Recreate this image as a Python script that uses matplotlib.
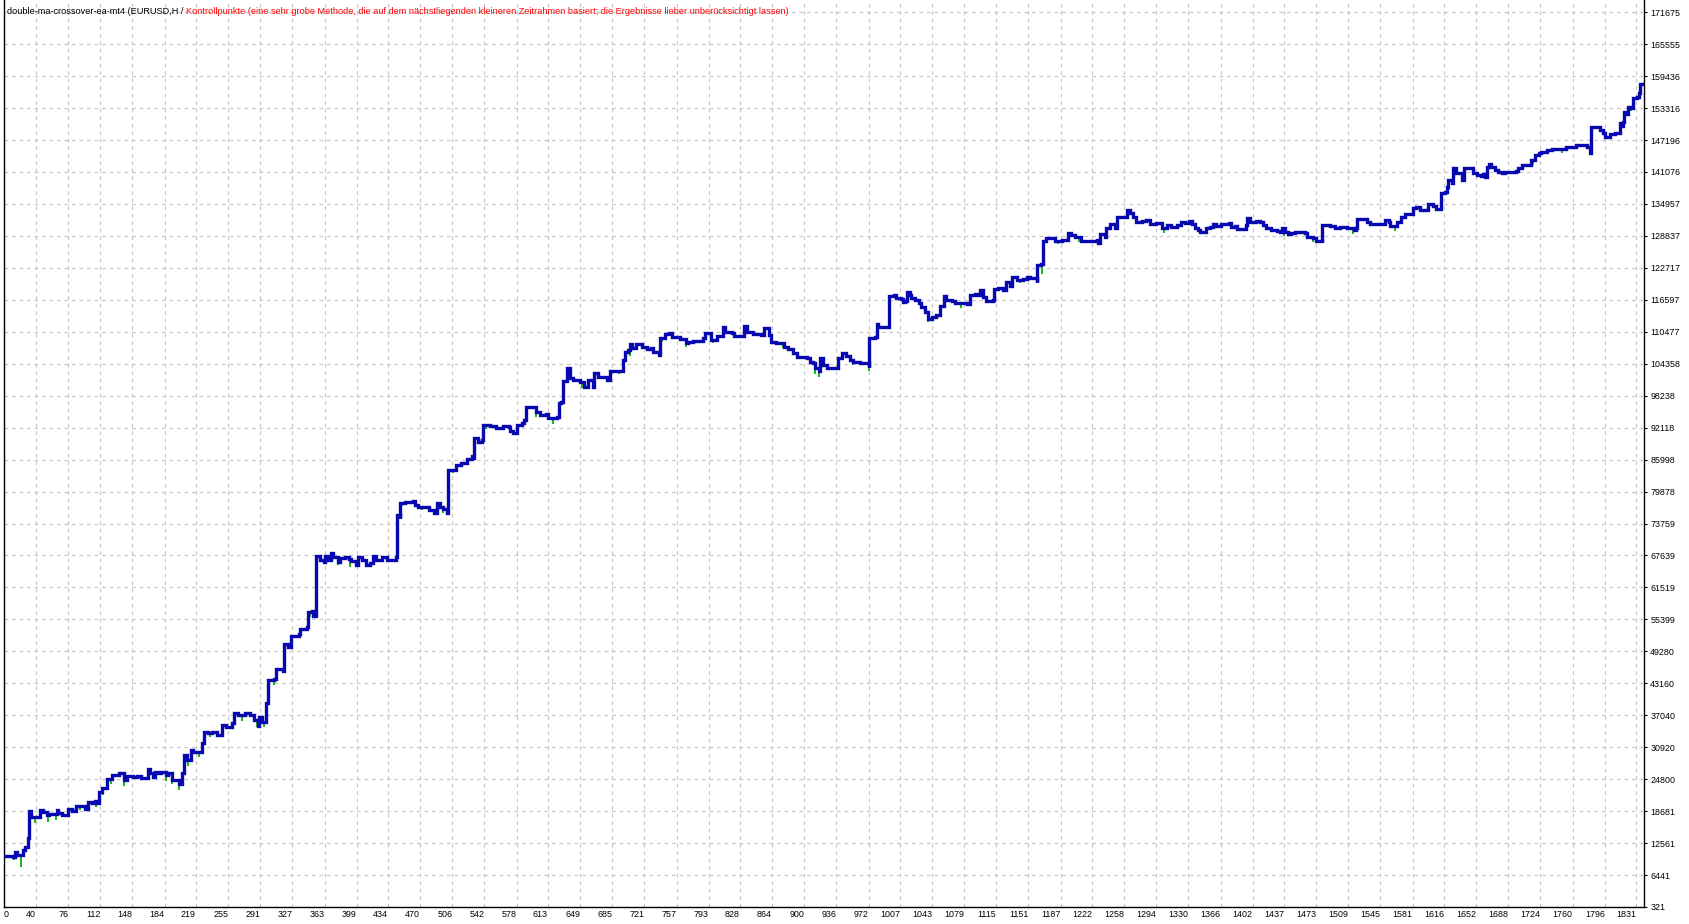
import numpy as np
import matplotlib
matplotlib.use("Agg")
import matplotlib.pyplot as plt
from matplotlib import font_manager

# balance curve (trade number, balance)
trades = [0, 14, 17, 19, 25, 28, 31, 32, 34, 44, 45, 48, 52, 55, 63, 65, 69, 76, 80, 85,
          95, 98, 103, 106, 108, 111, 114, 120, 125, 133, 138, 142, 149, 153, 157, 165, 168,
          171, 173, 177, 180, 185, 188, 192, 200, 204, 206, 209, 213, 216, 226, 228, 233, 237,
          243, 248, 253, 259, 262, 266, 274, 280, 284, 289, 290, 293, 297, 300, 306, 309, 317,
          318, 322, 325, 334, 336, 343, 344, 349, 350, 354, 358, 362, 364, 367, 370, 373, 378,
          380, 386, 390, 393, 398, 400, 405, 409, 414, 417, 421, 427, 433, 443, 444, 447, 448,
          453, 462, 464, 468, 480, 485, 489, 492, 496, 500, 501, 510, 516, 522, 528, 529, 530,
          535, 539, 540, 548, 555, 563, 569, 571, 574, 578, 584, 586, 589, 600, 604, 611, 613,
          623, 625, 628, 630, 634, 638, 641, 649, 654, 658, 663, 665, 669, 675, 679, 682, 697,
          699, 703, 705, 707, 712, 718, 724, 728, 731, 737, 739, 744, 749, 752, 761, 768, 770,
          776, 787, 789, 796, 802, 809, 811, 819, 821, 832, 836, 843, 852, 855, 859, 861, 863,
          868, 875, 877, 882, 887, 892, 903, 906, 910, 912, 916, 918, 921, 925, 938, 942, 947,
          951, 955, 962, 970, 972, 973, 979, 981, 983, 992, 995, 1000, 1003, 1008, 1010, 1013,
          1015, 1018, 1020, 1024, 1028, 1031, 1035, 1039, 1043, 1048, 1052, 1056, 1059, 1065,
          1069, 1074, 1082, 1085, 1091, 1095, 1097, 1100, 1104, 1111, 1112, 1117, 1122, 1126,
          1130, 1133, 1138, 1145, 1149, 1153, 1160, 1161, 1165, 1167, 1171, 1181, 1188, 1195,
          1199, 1203, 1210, 1228, 1229, 1231, 1237, 1238, 1242, 1248, 1250, 1261, 1265, 1268,
          1271, 1278, 1283, 1287, 1294, 1300, 1301, 1306, 1311, 1317, 1322, 1326, 1331, 1334,
          1337, 1341, 1343, 1350, 1354, 1358, 1361, 1367, 1376, 1378, 1382, 1384, 1395, 1396,
          1399, 1406, 1410, 1414, 1417, 1423, 1429, 1432, 1435, 1438, 1441, 1445, 1449, 1455,
          1460, 1463, 1470, 1473, 1479, 1480, 1488, 1494, 1500, 1507, 1515, 1518, 1519, 1526,
          1530, 1533, 1550, 1554, 1556, 1563, 1568, 1572, 1581, 1585, 1589, 1598, 1604, 1607,
          1613, 1617, 1619, 1621, 1625, 1626, 1630, 1636, 1638, 1649, 1653, 1658, 1660, 1662,
          1664, 1666, 1669, 1673, 1677, 1681, 1684, 1697, 1699, 1703, 1714, 1718, 1722, 1725,
          1731, 1737, 1753, 1764, 1776, 1779, 1780, 1781, 1791, 1794, 1796, 1802, 1807, 1811,
          1813, 1815, 1817, 1818, 1820, 1822, 1826, 1828, 1832, 1834, 1835, 1841]
balance = [10000, 9834, 10855, 10200, 11239, 11877, 13474, 18707, 17494, 18068, 18898, 18451,
           17877, 18068, 18898, 18260, 17941, 19090, 18707, 19728, 19026, 20494, 20175, 20686,
           20175, 22281, 23111, 24898, 25664, 25919, 24643, 25473, 25281, 25473, 24962, 26749,
           25919, 25281, 26238, 25919, 26238, 25600, 25919, 24643, 23877, 25919, 29430, 28473,
           30388, 30069, 31664, 33898, 33579, 33898, 33260, 35175, 34856, 35494, 37409, 37090,
           37409, 37090, 36132, 35047, 36771, 35813, 39324, 43792, 43919, 45834, 45579, 50622,
           50175, 52217, 52536, 53494, 54007, 56752, 57071, 56050, 67603, 66773, 66454, 67603,
           66773, 68178, 67412, 66454, 67092, 67412, 66901, 66646, 65816, 67284, 66773, 65816,
           66135, 67540, 66773, 67412, 66773, 67412, 75390, 74751, 77751, 77943, 78134, 77305,
           76985, 76347, 75709, 77624, 76985, 76475, 75837, 84007, 84965, 85411, 86050, 86688,
           86241, 90071, 89432, 89752, 92624, 92432, 92113, 92432, 92305, 91475, 91156, 92624,
           92943, 93581, 96135, 95177, 94539, 94730, 93900, 94220, 96773, 97092, 101114, 103476,
           101561, 101242, 100923, 99838, 101242, 99838, 102518, 101880, 101752, 101242, 103029,
           105072, 106667, 106987, 108136, 107306, 108136, 107625, 107114, 107306, 106667,
           106029, 109220, 109986, 110178, 109412, 109029, 108263, 108582, 108774, 109220,
           110178, 108901, 109667, 111327, 110369, 110178, 109667, 111582, 110369, 110050,
           109859, 111263, 111135, 109859, 108582, 108391, 108263, 107625, 107114, 106476,
           105710, 105391, 104752, 104433, 103476, 103029, 105391, 104114, 103476, 105391,
           106348, 105838, 105072, 104752, 104561, 104433, 103795, 109300, 109539, 111965,
           111329, 111457, 117329, 117521, 116883, 116691, 116244, 116436, 118032, 117521,
           116883, 116563, 116053, 115287, 114329, 112861, 113372, 113691, 115414, 117329,
           116563, 116436, 115925, 116053, 115798, 117521, 117713, 117521, 118478, 117202,
           116436, 116563, 118606, 118797, 118478, 120074, 119244, 121031, 120393, 120520,
           120903, 120712, 120074, 123265, 123457, 127861, 128371, 127925, 128052, 129329,
           129010, 128563, 127925, 128052, 127414, 129202, 128691, 130287, 131117, 130287,
           132393, 133798, 133159, 132521, 131564, 131755, 131882, 131053, 131372, 131117,
           130287, 130925, 130606, 130925, 131563, 131244, 131755, 131117, 130415, 129968,
           129649, 130415, 130479, 131117, 130734, 131117, 131244, 130606, 130734, 130096,
           130925, 132202, 131563, 131691, 131563, 130925, 130287, 129968, 129840, 129649,
           130287, 129649, 129138, 129330, 129649, 129521, 129330, 128691, 128372, 127925,
           127734, 130925, 130797, 130415, 130606, 130415, 130000, 130287, 132150, 132010,
           131563, 131116, 131883, 131563, 130797, 131563, 132520, 133031, 134116, 134308,
           133797, 134946, 134563, 133925, 136988, 137308, 138138, 139542, 138904, 141776,
           140819, 139542, 141776, 140946, 140500, 140308, 140628, 140181, 141968, 142606,
           141968, 141457, 141138, 140946, 141138, 141330, 141776, 142415, 143372, 144329,
           144648, 144968, 145287, 145414, 145925, 146244, 145925, 145287, 144648, 149755,
           149117, 148478, 147840, 148350, 148606, 148478, 150393, 149882, 150712, 152627,
           152180, 153584, 153265, 155180, 155499, 156137, 157925, 158053]

# equity drawdowns (green) below the balance line
dip_trades = [15, 23, 39, 53, 62, 89, 107, 115, 124, 138, 185, 192, 200, 210, 223, 235, 271,
              287, 295, 306, 347, 378, 391, 450, 472, 487, 496, 507, 522, 544, 576, 600, 619,
              627, 651, 664, 679, 693, 705, 741, 768, 798, 821, 876, 912, 917, 955, 972, 979,
              994, 1010, 1039, 1048, 1075, 1104, 1141, 1166, 1184, 1207, 1278, 1303, 1310,
              1437, 1470, 1479, 1514, 1561, 1716, 1748, 1817, 1826]
dip_values = [9324, 7945, 16345, 16664, 16983, 18898, 19537, 21771, 23877, 23558, 24515,
              23877, 22728, 27324, 28983, 32814, 36005, 34728, 34856, 42835, 55922, 65816,
              65496, 77113, 76347, 75390, 75700, 83496, 85284, 91794, 90901, 94220, 92815,
              94858, 99646, 99646, 100923, 102391, 105838, 108582, 107625, 108263, 109220,
              107306, 102391, 101752, 104114, 103000, 109031, 110946, 115925, 112414, 112861,
              114967, 116244, 119882, 121542, 127287, 127734, 131117, 129457, 130287, 128883,
              127606, 127606, 129202, 129840, 142415, 144648, 149755, 152819]

x_labels = ['40', '76', '112', '148', '184', '219', '255', '291', '327', '363', '399', '434',
            '470', '506', '542', '578', '613', '649', '685', '721', '757', '793', '828', '864',
            '900', '936', '972', '1007', '1043', '1079', '1115', '1151', '1187', '1222', '1258',
            '1294', '1330', '1366', '1402', '1437', '1473', '1509', '1545', '1581', '1616',
            '1652', '1688', '1724', '1760', '1796', '1831']
y_labels = ['321', '6441', '12561', '18681', '24800', '30920', '37040', '43160', '49280',
            '55399', '61519', '67639', '73759', '79878', '85998', '92118', '98238', '104358',
            '110477', '116597', '122717', '128837', '134957', '141076', '147196', '153316',
            '159436', '165555', '171675']

names = {f.name for f in font_manager.fontManager.ttflist}
if 'Liberation Sans Narrow' in names:
    FONT, FS, TS = 'Liberation Sans Narrow', 7.95, 7.6
else:
    FONT, FS, TS = 'Liberation Sans', 6.6, 6.4
plt.rcParams['font.family'] = [FONT, 'DejaVu Sans']

W, H = 1690, 924
fig = plt.figure(figsize=(W / 100, H / 100), dpi=100)
ax = fig.add_axes([4 / W, 17 / H, 1640 / W, 907 / H])

t = np.array(trades)
b = np.array(balance)
idx = np.searchsorted(t, dip_trades, side='right') - 1
ax.vlines(dip_trades, dip_values, b[idx], color='#00b400', lw=1.3, zorder=3)
ax.plot(t, b, drawstyle='steps-post', color='#0808b0', lw=2.4, zorder=4,
        solid_joinstyle='miter')

ax.set_xlim(4.2, 1840)
ax.set_ylim(321, 174012)

xt = [4.2] + [int(s) for s in x_labels]
ax.set_xticks(xt)
ax.set_xticklabels(['0'] + x_labels, fontsize=TS)
for i, lab in enumerate(ax.get_xticklabels()):
    lab.set_ha('left' if i == 0 else 'right')
ax.set_yticks([int(s) for s in y_labels])
ax.set_yticklabels(y_labels, fontsize=TS)
ax.yaxis.tick_right()
ax.tick_params(axis='y', length=2.5, width=0.8, pad=2, colors='black')
ax.tick_params(axis='x', length=0, pad=2.5, colors='black')

ax.grid(True, color='#c8c8c8', lw=0.9, ls=(0, (3, 3)))
ax.set_axisbelow(True)
for side in ['left', 'bottom', 'right']:
    ax.spines[side].set_linewidth(1.0)
    ax.spines[side].set_color('black')
ax.spines['top'].set_visible(False)

head = fig.text(7 / W, 1 - 11.5 / H, 'double-ma-crossover-ea-mt4 (EURUSD,H / ',
                fontsize=FS, color='black', va='center')
ax.annotate('Kontrollpunkte (eine sehr grobe Methode, die auf dem nächstliegenden kleineren '
            'Zeitrahmen basiert; die Ergebnisse lieber unberücksichtigt lassen)',
            xy=(1, 0.5), xycoords=head, va='center', ha='left',
            fontsize=FS, color='#ff0000', annotation_clip=False)

fig.savefig('out.png', dpi=100, facecolor='white')
